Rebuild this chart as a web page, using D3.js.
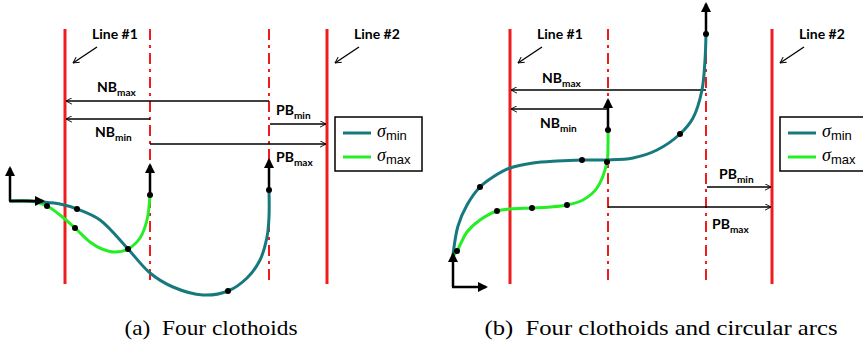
<!DOCTYPE html>
<html>
<head>
<meta charset="utf-8">
<script src="https://cdn.jsdelivr.net/npm/d3@7"></script>
<style>
  body { margin: 0; background: #fff; }
  svg { display: block; }
</style>
</head>
<body>
<svg id="chart" width="863" height="344"></svg>
<script>
// all values are in units measured from each panel's local origin (y up)

// (a) four clothoids
var aSigmaMin = [[0,0],[15,0],[32,-1],[50,-3],[67,-8],[90,-19],[118,-48],[140,-72],[163,-86],[193,-94],[218,-90],[237,-77],[250,-59],[257,-36],[259,-16],[259,11]];
var aSigmaMax = [[0,0],[20,0],[37,-5],[50,-14],[65,-27],[80,-41],[92,-48],[105,-51],[118,-48],[130,-37],[137,-19],[140,6]];
var aDotsMin = [[67,-8],[118,-48],[218,-90],[259,11]];
var aDotsMax = [[37,-5],[65,-27],[140,6]];
var aSolid = [55, 317];
var aDashed = [140, 259];
var aSpan = [172, -83];
var aBounds = [
  // name, sub, y, from, to, label x, label y
  ['NB', 'max', 100, 259, 56, 87, 109],
  ['NB', 'min', 82, 140, 56, 85, 64],
  ['PB', 'min', 77, 260, 316, 266, 86],
  ['PB', 'max', 57, 140, 316, 266, 39]
];

// (b) four clothoids and circular arcs
var bSigmaMin = [[0,32],[5,61],[14,82],[27,100],[40,110],[57,119],[80,124],[104,126],[129,127],[154,127],[180,129],[204,137],[227,153],[240,169],[249,197],[252,227],[253,253]];
var bSigmaMax = [[0,31],[4,36],[14,55],[27,67],[44,76],[57,78],[79,79],[97,80],[114,82],[130,87],[144,99],[154,125],[155,142],[155,157]];
var bDotsMin = [[27,100],[129,127],[227,153],[253,253]];
var bDotsMax = [[4,36],[44,76],[79,79],[114,82],[154,125],[155,157]];
var bSolid = [57, 319];
var bDashed = [155, 253];
var bSpan = [258, 3];
var bBounds = [
  ['NB', 'max', 197, 253, 58, 89, 204],
  ['NB', 'min', 178, 155, 58, 87, 159],
  ['PB', 'min', 100, 254, 318, 266, 108],
  ['PB', 'max', 80, 155, 318, 259, 58]
];

var captions = ['(a)\u2002Four clothoids', '(b)\u2002Four clothoids and circular arcs'];
var legendNames = ['min', 'max'];

var RED = '#ee1c1c', TEAL = '#16797e', GREEN = '#26ee26';

var panels = [
  { origin: [10, 201], sMin: aSigmaMin, sMax: aSigmaMax, dMin: aDotsMin, dMax: aDotsMax,
    solid: aSolid, dashed: aDashed, span: aSpan, bounds: aBounds,
    caption: captions[0], capX: 211, capW: 173 },
  { origin: [453, 287], sMin: bSigmaMin, sMax: bSigmaMax, dMin: bDotsMin, dMax: bDotsMax,
    solid: bSolid, dashed: bDashed, span: bSpan, bounds: bBounds,
    caption: captions[1], capX: 661, capW: 353 }
];

var svg = d3.select('#chart');
svg.append('rect').attr('width', 863).attr('height', 344).attr('fill', '#fff');

var defs = svg.append('defs');
defs.append('marker')
  .attr('id', 'headFill').attr('viewBox', '0 0 10 10')
  .attr('refX', 8).attr('refY', 5).attr('markerWidth', 4).attr('markerHeight', 4)
  .attr('markerUnits', 'strokeWidth').attr('orient', 'auto')
  .append('path').attr('d', 'M0,0 L10,5 L0,10 z').attr('fill', '#000');
defs.append('marker')
  .attr('id', 'headOpen').attr('viewBox', '0 0 10 10')
  .attr('refX', 9.5).attr('refY', 5).attr('markerWidth', 7).attr('markerHeight', 7)
  .attr('markerUnits', 'userSpaceOnUse').attr('orient', 'auto')
  .append('path').attr('d', 'M1,0.5 L9.5,5 L1,9.5').attr('fill', 'none')
  .attr('stroke', '#000').attr('stroke-width', 1.3);

var boldFont = 'Lato, "Open Sans", "Liberation Sans", sans-serif';

function subLabel(g, x, y, main, sub, size) {
  var t = g.append('text')
    .attr('x', x).attr('y', y)
    .attr('font-family', boldFont).attr('font-weight', 'bold')
    .attr('font-size', size).attr('fill', '#000');
  t.append('tspan').text(main);
  t.append('tspan').attr('dy', 4).attr('font-size', size * 0.72).text(sub);
  return t;
}

panels.forEach(function (p) {
  var x = d3.scaleLinear().domain([0, 1]).range([p.origin[0], p.origin[0] + 1]);
  var y = d3.scaleLinear().domain([0, 1]).range([p.origin[1], p.origin[1] - 1]);
  var g = svg.append('g');

  var line = d3.line()
    .x(function (d) { return x(d[0]); })
    .y(function (d) { return y(d[1]); })
    .curve(d3.curveCatmullRom.alpha(0.5));

  // boundary lines
  g.selectAll('.solid').data(p.solid).enter().append('line')
    .attr('x1', function (d) { return x(d); }).attr('x2', function (d) { return x(d); })
    .attr('y1', y(p.span[0])).attr('y2', y(p.span[1]))
    .attr('stroke', RED).attr('stroke-width', 3);

  g.selectAll('.dashed').data(p.dashed).enter().append('line')
    .attr('x1', function (d) { return x(d); }).attr('x2', function (d) { return x(d); })
    .attr('y1', y(p.span[0])).attr('y2', y(p.span[1]))
    .attr('stroke', RED).attr('stroke-width', 2)
    .attr('stroke-dasharray', '11,5,3,5');

  // line labels with pointers
  p.solid.forEach(function (lx, i) {
    g.append('text')
      .attr('x', x(lx + 27)).attr('y', y(p.span[0] - 10))
      .attr('font-family', boldFont).attr('font-weight', 'bold')
      .attr('font-size', 14).text('Line #' + (i + 1));
    g.append('line')
      .attr('x1', x(lx + 32)).attr('y1', y(p.span[0] - 18))
      .attr('x2', x(lx + 8)).attr('y2', y(p.span[0] - 34))
      .attr('stroke', '#000').attr('stroke-width', 1.3)
      .attr('marker-end', 'url(#headOpen)');
  });

  // bound arrows
  p.bounds.forEach(function (b) {
    g.append('line')
      .attr('x1', x(b[3])).attr('y1', y(b[2]))
      .attr('x2', x(b[4])).attr('y2', y(b[2]))
      .attr('stroke', '#000').attr('stroke-width', 1.3)
      .attr('marker-end', 'url(#headOpen)');
    subLabel(g, x(b[5]), y(b[6]), b[0], b[1], 14);
  });

  // curves
  g.append('path').datum(p.sMax).attr('d', line)
    .attr('fill', 'none').attr('stroke', GREEN).attr('stroke-width', 3);
  g.append('path').datum(p.sMin).attr('d', line)
    .attr('fill', 'none').attr('stroke', TEAL).attr('stroke-width', 3);

  // heading arrows at the ends
  [p.sMin[p.sMin.length - 1], p.sMax[p.sMax.length - 1]].forEach(function (e) {
    g.append('line')
      .attr('x1', x(e[0])).attr('y1', y(e[1]))
      .attr('x2', x(e[0])).attr('y2', y(e[1] + 30))
      .attr('stroke', '#000').attr('stroke-width', 2.5)
      .attr('marker-end', 'url(#headFill)');
  });

  // local frame
  g.append('line').attr('x1', x(0)).attr('y1', y(0)).attr('x2', x(0)).attr('y2', y(33))
    .attr('stroke', '#000').attr('stroke-width', 2.5).attr('marker-end', 'url(#headFill)');
  g.append('line').attr('x1', x(-1)).attr('y1', y(0)).attr('x2', x(33)).attr('y2', y(0))
    .attr('stroke', '#000').attr('stroke-width', 2.5).attr('marker-end', 'url(#headFill)');

  // junction dots
  g.selectAll('.dot').data(p.dMin.concat(p.dMax)).enter().append('circle')
    .attr('cx', function (d) { return x(d[0]); })
    .attr('cy', function (d) { return y(d[1]); })
    .attr('r', 3).attr('fill', '#000');

  // legend
  var lx = x(p.solid[1]) + 8;
  var lg = g.append('g').attr('transform', 'translate(' + lx + ',117)');
  lg.append('rect').attr('width', 87).attr('height', 54)
    .attr('fill', '#fff').attr('stroke', '#000').attr('stroke-width', 1.5);
  legendNames.forEach(function (n, i) {
    var ly = 16 + i * 24;
    lg.append('line').attr('x1', 8).attr('x2', 36).attr('y1', ly).attr('y2', ly)
      .attr('stroke', i === 0 ? TEAL : GREEN).attr('stroke-width', 3);
    var t = lg.append('text').attr('x', 42).attr('y', ly + 4);
    t.append('tspan').attr('font-family', '"Liberation Serif", serif')
      .attr('font-style', 'italic').attr('font-size', 18).text('\u03c3');
    t.append('tspan').attr('dy', 3).attr('font-family', '"Liberation Sans", Arial, sans-serif')
      .attr('font-size', 13).text(n);
  });

  // caption (the original typesetting is a little wider than Liberation Serif)
  svg.append('text')
    .attr('x', p.capX - p.capW / 2).attr('y', 335)
    .attr('font-family', '"Liberation Serif", "Times New Roman", serif')
    .attr('font-size', 21)
    .attr('textLength', p.capW).attr('lengthAdjust', 'spacingAndGlyphs')
    .text(p.caption);
});
</script>
</body>
</html>
